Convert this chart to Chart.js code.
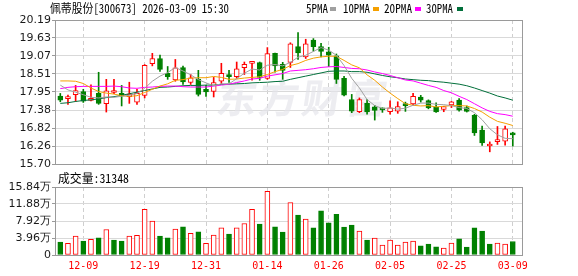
<!DOCTYPE html>
<html>
<head>
<meta charset="utf-8">
<script src="https://cdn.jsdelivr.net/npm/chart.js@4.4.1/dist/chart.umd.min.js"></script>
<style>
html, body { margin: 0; padding: 0; background: #fff; }
#wrap { position: relative; width: 578px; height: 276px; overflow: hidden; }
canvas { position: absolute; left: 0; }
.t { position: absolute; font: 12px "Noto Sans Mono CJK SC", "Liberation Mono", monospace; color: #000;
     white-space: nowrap; line-height: 14px; transform-origin: 0 0; }
.sw { position: absolute; width: 6px; height: 4px; top: 7px; }
</style>
</head>
<body>
<div id="wrap">
  <canvas id="price" width="578" height="172" style="top:0"></canvas>
  <canvas id="vol" width="578" height="104" style="top:172px"></canvas>
  <div class="t" data-w="179" style="left:50px;top:1px">佩蒂股份[300673] 2026-03-09 15:30</div>
  <div class="t" data-w="22" style="left:306px;top:1px">5PMA</div>
  <div class="sw" style="left:330px;background:#a0a0a0"></div>
  <div class="t" data-w="27" style="left:343px;top:1px">10PMA</div>
  <div class="sw" style="left:373px;background:#f5a000"></div>
  <div class="t" data-w="28" style="left:384px;top:1px">20PMA</div>
  <div class="sw" style="left:415px;background:#ff00ff"></div>
  <div class="t" data-w="27" style="left:426px;top:1px">30PMA</div>
  <div class="sw" style="left:457px;background:#006f3a"></div>
  <div class="t" id="volText" data-w="71" style="left:58px;top:171px">成交量:31348</div>
</div>
<script>
// trading days shown (MM-DD)
var dates = ['12-04','12-05','12-08','12-09','12-10','12-11','12-12','12-15','12-16','12-17',
  '12-18','12-19','12-22','12-23','12-24','12-25','12-26','12-29','12-30','12-31',
  '01-05','01-06','01-07','01-08','01-09','01-12','01-13','01-14','01-15','01-16',
  '01-19','01-20','01-21','01-22','01-23','01-26','01-27','01-28','01-29','01-30',
  '02-02','02-03','02-04','02-05','02-06','02-09','02-10','02-11','02-12','02-13',
  '02-24','02-25','02-26','02-27','03-02','03-03','03-04','03-05','03-06','03-09'];
var dateTicks = ['12-09','12-19','12-31','01-14','01-26','02-05','02-25','03-09'];

var opens = [17.82,17.74,17.86,17.96,17.68,17.90,17.58,17.93,17.90,17.80,
  17.63,17.84,18.83,18.99,18.53,18.32,18.71,18.24,18.35,18.03,
  17.96,18.28,18.49,18.42,18.70,18.84,18.86,18.37,19.15,18.81,
  18.87,19.36,19.04,19.56,19.36,19.20,19.07,18.37,17.71,17.33,
  17.59,17.48,17.41,17.33,17.35,17.58,17.57,17.79,17.68,17.47,
  17.40,17.54,17.69,17.46,17.22,16.76,16.26,16.40,16.41,16.65];
var highs = [17.90,17.85,18.15,18.03,18.17,18.56,18.34,18.34,18.15,18.25,
  18.03,18.80,19.15,19.10,18.74,18.96,18.75,18.49,18.62,18.15,
  18.40,18.84,18.62,18.88,18.88,18.90,18.88,19.33,19.16,18.87,
  19.48,19.80,19.59,19.61,19.46,19.34,19.13,18.43,17.87,17.76,
  17.71,17.53,17.45,17.67,17.64,17.63,17.90,17.84,17.70,17.61,
  17.50,17.65,17.74,17.51,17.25,16.88,16.39,16.87,16.88,16.69];
var lows = [17.64,17.56,17.65,17.62,17.67,17.56,17.32,17.89,17.51,17.59,
  17.56,17.76,18.76,18.59,18.34,18.28,18.18,18.18,17.82,17.81,
  17.79,18.21,18.24,18.37,18.49,18.31,18.31,18.34,18.56,18.34,
  18.71,18.96,18.99,19.22,19.04,18.74,18.21,17.82,17.30,17.30,
  17.25,17.07,17.31,17.25,17.28,17.34,17.53,17.63,17.42,17.31,
  17.33,17.46,17.35,17.32,16.59,16.28,16.08,16.31,16.29,16.26];
var closes = [17.69,17.80,17.99,17.66,17.75,17.59,17.98,17.93,17.82,17.88,
  17.90,18.78,18.99,18.65,18.42,18.70,18.26,18.39,17.87,17.95,
  18.24,18.53,18.42,18.67,18.81,18.87,18.40,19.14,18.76,18.62,
  19.45,19.16,19.45,19.36,19.21,19.09,18.34,17.85,17.35,17.71,
  17.32,17.37,17.39,17.45,17.49,17.52,17.81,17.69,17.45,17.32,
  17.49,17.64,17.38,17.34,16.67,16.36,16.26,16.42,16.80,16.61];

// volume, in 万 shares
var volumes = [3.01,2.70,4.40,3.25,3.63,4.02,5.95,3.48,3.25,4.40,
  4.56,10.66,7.88,4.40,4.02,6.03,6.57,5.02,5.41,2.70,
  4.64,6.34,4.87,6.34,7.34,10.66,7.19,14.84,6.57,5.33,
  12.21,9.27,8.35,6.34,10.28,7.50,9.50,6.49,6.95,5.56,
  3.48,3.94,2.32,3.48,2.32,3.01,3.25,2.16,2.55,1.93,
  1.62,2.78,3.79,1.85,6.34,5.56,2.55,2.78,2.55,3.1348];

// moving averages as drawn
var ma5 = [18.16,18.01,17.94,17.86,17.78,17.76,17.79,17.78,17.81,17.84,
  17.90,18.06,18.28,18.44,18.55,18.71,18.60,18.48,18.33,18.23,
  18.14,18.20,18.20,18.36,18.53,18.66,18.63,18.78,18.80,18.76,
  18.87,19.03,19.09,19.21,19.33,19.25,19.09,18.77,18.37,18.07,
  17.71,17.52,17.43,17.45,17.41,17.44,17.53,17.60,17.60,17.56,
  17.55,17.52,17.46,17.43,17.30,17.08,16.80,16.61,16.50,16.49];
var ma10 = [18.29,18.29,18.28,18.21,18.07,17.96,17.91,17.88,17.83,17.81,
  17.83,17.93,18.03,18.13,18.20,18.31,18.33,18.38,18.39,18.39,
  18.43,18.40,18.34,18.35,18.38,18.40,18.42,18.49,18.58,18.65,
  18.77,18.83,18.93,19.00,19.04,19.06,19.06,18.93,18.79,18.70,
  18.48,18.31,18.10,17.91,17.74,17.58,17.53,17.51,17.52,17.48,
  17.50,17.52,17.52,17.51,17.43,17.32,17.16,17.03,16.97,16.90];
var ma20 = [18.05,18.09,18.11,18.12,18.12,18.12,18.12,18.13,18.11,18.07,
  18.06,18.09,18.10,18.12,18.13,18.13,18.11,18.10,18.10,18.10,
  18.13,18.16,18.19,18.24,18.29,18.35,18.37,18.44,18.48,18.52,
  18.60,18.62,18.64,18.67,18.71,18.73,18.74,18.71,18.68,18.67,
  18.63,18.57,18.52,18.46,18.39,18.32,18.29,18.22,18.15,18.09,
  17.99,17.92,17.81,17.71,17.58,17.45,17.34,17.27,17.24,17.19];
var ma30 = [17.59,17.61,17.65,17.68,17.70,17.73,17.77,17.80,17.84,17.89,
  17.94,17.99,18.04,18.09,18.10,18.12,18.14,18.15,18.15,18.16,
  18.16,18.18,18.19,18.20,18.21,18.23,18.24,18.25,18.27,18.28,
  18.34,18.39,18.44,18.49,18.54,18.59,18.60,18.60,18.58,18.58,
  18.56,18.51,18.46,18.42,18.39,18.35,18.33,18.31,18.30,18.27,
  18.25,18.22,18.19,18.14,18.07,17.99,17.91,17.82,17.76,17.69];

var priceTicks = [15.70,16.26,16.82,17.38,17.95,18.51,19.07,19.63,20.19];
var volTicks = [0,3.96,7.92,11.88,15.84];

var RED = '#ff0000', GREEN = '#008000';
// candle colour: close against open; volume colour: close against the previous close
var up = closes.map(function (c, i) { return c >= opens[i]; });
var volUp = closes.map(function (c, i) { return i === 0 ? c >= opens[i] : c >= closes[i - 1]; });
var tickIdx = dateTicks.map(function (d) { return dates.indexOf(d); });

// squeeze the header texts to the width they take in the original
Array.prototype.forEach.call(document.querySelectorAll('.t'), function (el) {
  var w = el.getBoundingClientRect().width;
  el.style.transform = 'scaleX(' + (parseFloat(el.dataset.w) / w) + ')';
});

var frame = {
  id: 'frame',
  afterDraw: function (chart) {
    var a = chart.chartArea, ctx = chart.ctx;
    ctx.save();
    ctx.strokeStyle = '#9a9a9a';
    ctx.lineWidth = 1;
    ctx.strokeRect(Math.round(a.left) + 0.5, Math.round(a.top) + 0.5,
      Math.round(a.right - a.left), Math.round(a.bottom - a.top));
    ctx.restore();
  }
};

var watermark = {
  id: 'watermark',
  beforeDatasetsDraw: function (chart) {
    var ctx = chart.ctx;
    ctx.save();
    ctx.fillStyle = 'rgba(228,228,234,0.65)';
    ctx.font = 'bold 40px "Noto Sans CJK SC"';
    ctx.textBaseline = 'alphabetic';
    var xs = [216, 258, 301, 346];
    '东方财富'.split('').forEach(function (ch, k) {
      ctx.setTransform(1, 0, -0.15, 1, 16, 0);
      ctx.fillText(ch, xs[k], 113);
    });
    ctx.restore();
  }
};

function xScale(showLabels) {
  return {
    type: 'linear',
    offset: false,
    min: -0.69,
    max: 60.2,
    afterBuildTicks: function (s) { s.ticks = tickIdx.map(function (v) { return { value: v }; }); },
    afterFit: function (s) { s.height = showLabels ? 21 : 0; },
    grid: { color: '#cfcfcf', drawTicks: false, offset: false },
    border: { display: false, dash: [4, 3] },
    ticks: {
      display: showLabels,
      autoSkip: false,
      maxRotation: 0,
      padding: 5,
      color: RED,
      font: { family: 'DejaVu Sans Mono', size: 10 },
      callback: function (v) { return dates[v]; }
    }
  };
}

function yScale(min, max, list, fmt) {
  return {
    min: min,
    max: max,
    afterBuildTicks: function (s) { s.ticks = list.map(function (v) { return { value: v }; }); },
    afterFit: function (s) { s.width = 55; },
    grid: { color: '#d9d9d9', tickLength: 3, tickColor: '#9a9a9a' },
    border: { color: '#9a9a9a' },
    ticks: {
      padding: 1,
      color: '#1a1a1a',
      font: { family: 'DejaVu Sans', size: 11 },
      callback: fmt
    }
  };
}

function line(data, color) {
  return {
    type: 'line',
    order: 0,
    data: data.map(function (v, i) { return { x: i, y: v }; }),
    borderColor: color,
    borderWidth: 1,
    pointRadius: 0,
    tension: 0
  };
}

new Chart(document.getElementById('price'), {
  type: 'bar',
  data: {
    datasets: [
      line(ma5, '#a0a0a0'),
      line(ma10, '#f5a000'),
      line(ma20, '#ff00ff'),
      line(ma30, '#006f3a'),
      {
        order: 1,
        grouped: false,
        data: opens.map(function (o, i) { return { x: i, y: [o, closes[i]] }; }),
        backgroundColor: up.map(function (u) { return u ? '#ffffff' : GREEN; }),
        borderColor: up.map(function (u) { return u ? RED : GREEN; }),
        borderWidth: 1,
        borderSkipped: false,
        barThickness: 5,
        minBarLength: 2
      },
      {
        order: 2,
        grouped: false,
        data: lows.map(function (l, i) { return { x: i, y: [l, highs[i]] }; }),
        backgroundColor: up.map(function (u) { return u ? RED : GREEN; }),
        borderWidth: 0,
        barThickness: 1
      }
    ]
  },
  options: {
    responsive: false,
    animation: false,
    layout: { padding: { top: 20, right: 56, bottom: 8, left: 0 } },
    plugins: { legend: { display: false }, tooltip: { enabled: false } },
    scales: {
      x: xScale(false),
      y: yScale(15.70, 20.19, priceTicks, function (v) { return v.toFixed(2); })
    }
  },
  plugins: [frame, watermark]
});

new Chart(document.getElementById('vol'), {
  type: 'bar',
  data: {
    datasets: [{
      grouped: false,
      data: volumes.map(function (v, i) { return { x: i, y: v }; }),
      backgroundColor: volUp.map(function (u) { return u ? '#ffffff' : GREEN; }),
      borderColor: volUp.map(function (u) { return u ? RED : GREEN; }),
      borderWidth: 1,
      borderSkipped: false,
      barThickness: 5
    }]
  },
  options: {
    responsive: false,
    animation: false,
    layout: { padding: { top: 15, right: 56, bottom: 0, left: 0 } },
    plugins: { legend: { display: false }, tooltip: { enabled: false } },
    scales: {
      x: xScale(true),
      y: yScale(0, 15.84, volTicks, function (v) { return v === 0 ? '0' : v.toFixed(2) + '万'; })
    }
  },
  plugins: [frame]
});
</script>
</body>
</html>
